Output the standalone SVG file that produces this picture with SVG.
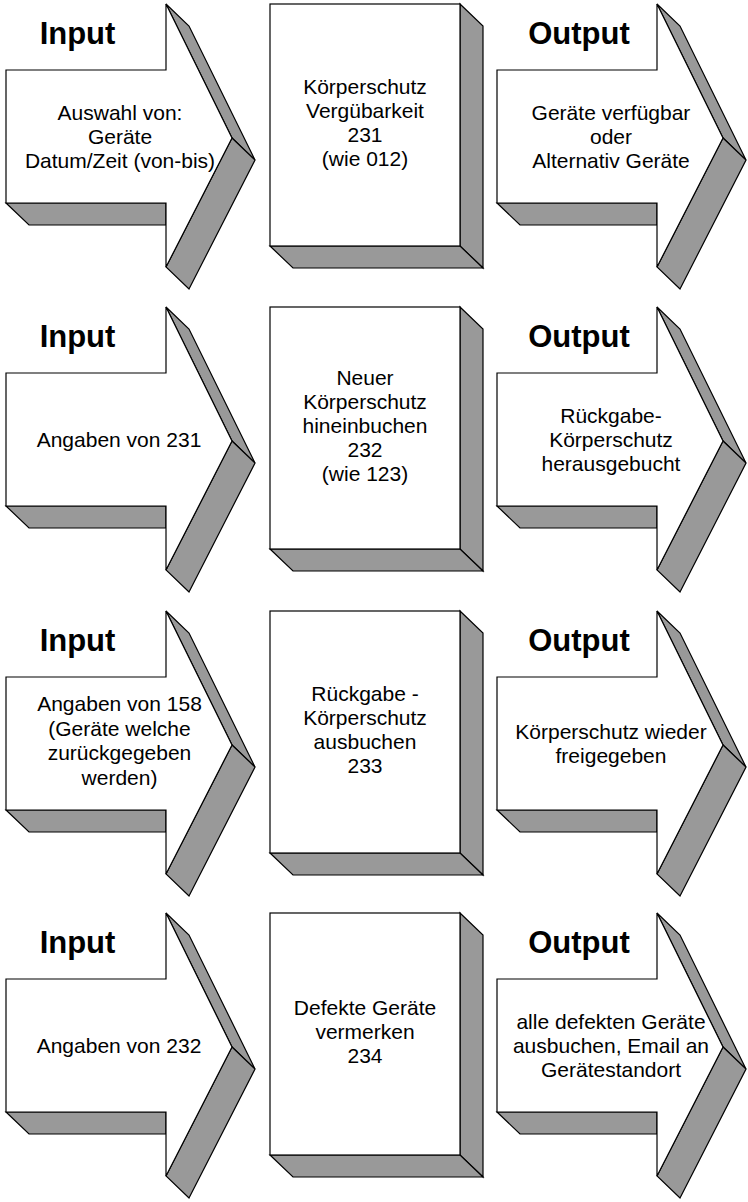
<svg xmlns="http://www.w3.org/2000/svg" xmlns:xlink="http://www.w3.org/1999/xlink" width="748" height="1202" viewBox="0 0 748 1202">
<style>
.face{fill:#ffffff;stroke:#000000;stroke-width:1.2;stroke-linejoin:miter}
.side{fill:#999999;stroke:#000000;stroke-width:1.2;stroke-linejoin:miter}
.title{font-family:"Liberation Sans",Arial,sans-serif;font-weight:bold;font-size:31px;fill:#000000;text-anchor:middle}
.lbl{font-family:"Liberation Sans",Arial,sans-serif;font-size:21px;fill:#000000;text-anchor:middle}
</style>
<defs>
<g id="arrow">
<polygon class="side" points="160,0 183,22 249,156 226,134"/>
<polygon class="side" points="226,134 249,156 183,285 160,263"/>
<polygon class="side" points="0,199 23,221 160,221 160,199"/>
<polygon class="face" points="0,66 160,66 160,0 226,134 160,263 160,199 0,199"/>
</g>
<g id="box">
<polygon class="side" points="190,0 213,22 213,264 190,242"/>
<polygon class="side" points="0,242 23,264 213,264 190,242"/>
<rect class="face" x="0" y="0" width="190" height="242"/>
</g>
</defs>
<rect x="0" y="0" width="748" height="1202" fill="#ffffff"/>
<g id="connectors"></g>

<!-- Row 1 -->
<g id="input1">
<use xlink:href="#arrow" href="#arrow" transform="translate(6,4)"/>
<text class="title" x="77.5" y="44">Input</text>
<text class="lbl"><tspan x="120" y="119.8">Auswahl von:</tspan><tspan x="120" y="143.8">Geräte</tspan><tspan x="120" y="167.8">Datum/Zeit (von-bis)</tspan></text>
</g>
<g id="process231">
<use xlink:href="#box" href="#box" transform="translate(270,4)"/>
<text class="lbl"><tspan x="365" y="94.3">Körperschutz</tspan><tspan x="365" y="118.3">Vergübarkeit</tspan><tspan x="365" y="142.3">231</tspan><tspan x="365" y="166.3">(wie 012)</tspan></text>
</g>
<g id="output1">
<use xlink:href="#arrow" href="#arrow" transform="translate(497,4)"/>
<text class="title" x="579" y="44">Output</text>
<text class="lbl"><tspan x="611" y="119.8">Geräte verfügbar</tspan><tspan x="611" y="143.8">oder</tspan><tspan x="611" y="167.8">Alternativ Geräte</tspan></text>
</g>

<!-- Row 2 -->
<g id="input2">
<use xlink:href="#arrow" href="#arrow" transform="translate(6,307)"/>
<text class="title" x="77.5" y="347">Input</text>
<text class="lbl"><tspan x="119" y="446.8">Angaben von 231</tspan></text>
</g>
<g id="process232">
<use xlink:href="#box" href="#box" transform="translate(270,307)"/>
<text class="lbl"><tspan x="365" y="385.3">Neuer</tspan><tspan x="365" y="409.3">Körperschutz</tspan><tspan x="365" y="433.3">hineinbuchen</tspan><tspan x="365" y="457.3">232</tspan><tspan x="365" y="481.3">(wie 123)</tspan></text>
</g>
<g id="output2">
<use xlink:href="#arrow" href="#arrow" transform="translate(497,307)"/>
<text class="title" x="579" y="347">Output</text>
<text class="lbl"><tspan x="611" y="422.8">Rückgabe-</tspan><tspan x="611" y="446.8">Körperschutz</tspan><tspan x="611" y="470.8">herausgebucht</tspan></text>
</g>

<!-- Row 3 -->
<g id="input3">
<use xlink:href="#arrow" href="#arrow" transform="translate(6,611)"/>
<text class="title" x="77.5" y="651">Input</text>
<text class="lbl"><tspan x="119.5" y="711">Angaben von 158</tspan><tspan x="119.5" y="735.5">(Geräte welche</tspan><tspan x="119.5" y="760">zurückgegeben</tspan><tspan x="119.5" y="784.5">werden)</tspan></text>
</g>
<g id="process233">
<use xlink:href="#box" href="#box" transform="translate(270,611)"/>
<text class="lbl"><tspan x="365" y="701.3">Rückgabe -</tspan><tspan x="365" y="725.3">Körperschutz</tspan><tspan x="365" y="749.3">ausbuchen</tspan><tspan x="365" y="773.3">233</tspan></text>
</g>
<g id="output3">
<use xlink:href="#arrow" href="#arrow" transform="translate(497,611)"/>
<text class="title" x="579" y="651">Output</text>
<text class="lbl"><tspan x="611" y="738.8">Körperschutz wieder</tspan><tspan x="611" y="762.8">freigegeben</tspan></text>
</g>

<!-- Row 4 -->
<g id="input4">
<use xlink:href="#arrow" href="#arrow" transform="translate(6,913)"/>
<text class="title" x="77.5" y="953">Input</text>
<text class="lbl"><tspan x="119" y="1052.8">Angaben von 232</tspan></text>
</g>
<g id="process234">
<use xlink:href="#box" href="#box" transform="translate(270,913)"/>
<text class="lbl"><tspan x="365" y="1015.3">Defekte Geräte</tspan><tspan x="365" y="1039.3">vermerken</tspan><tspan x="365" y="1063.3">234</tspan></text>
</g>
<g id="output4">
<use xlink:href="#arrow" href="#arrow" transform="translate(497,913)"/>
<text class="title" x="579" y="953">Output</text>
<text class="lbl"><tspan x="611" y="1028.8">alle defekten Geräte</tspan><tspan x="611" y="1052.8">ausbuchen, Email an</tspan><tspan x="611" y="1076.8">Gerätestandort</tspan></text>
</g>
</svg>
